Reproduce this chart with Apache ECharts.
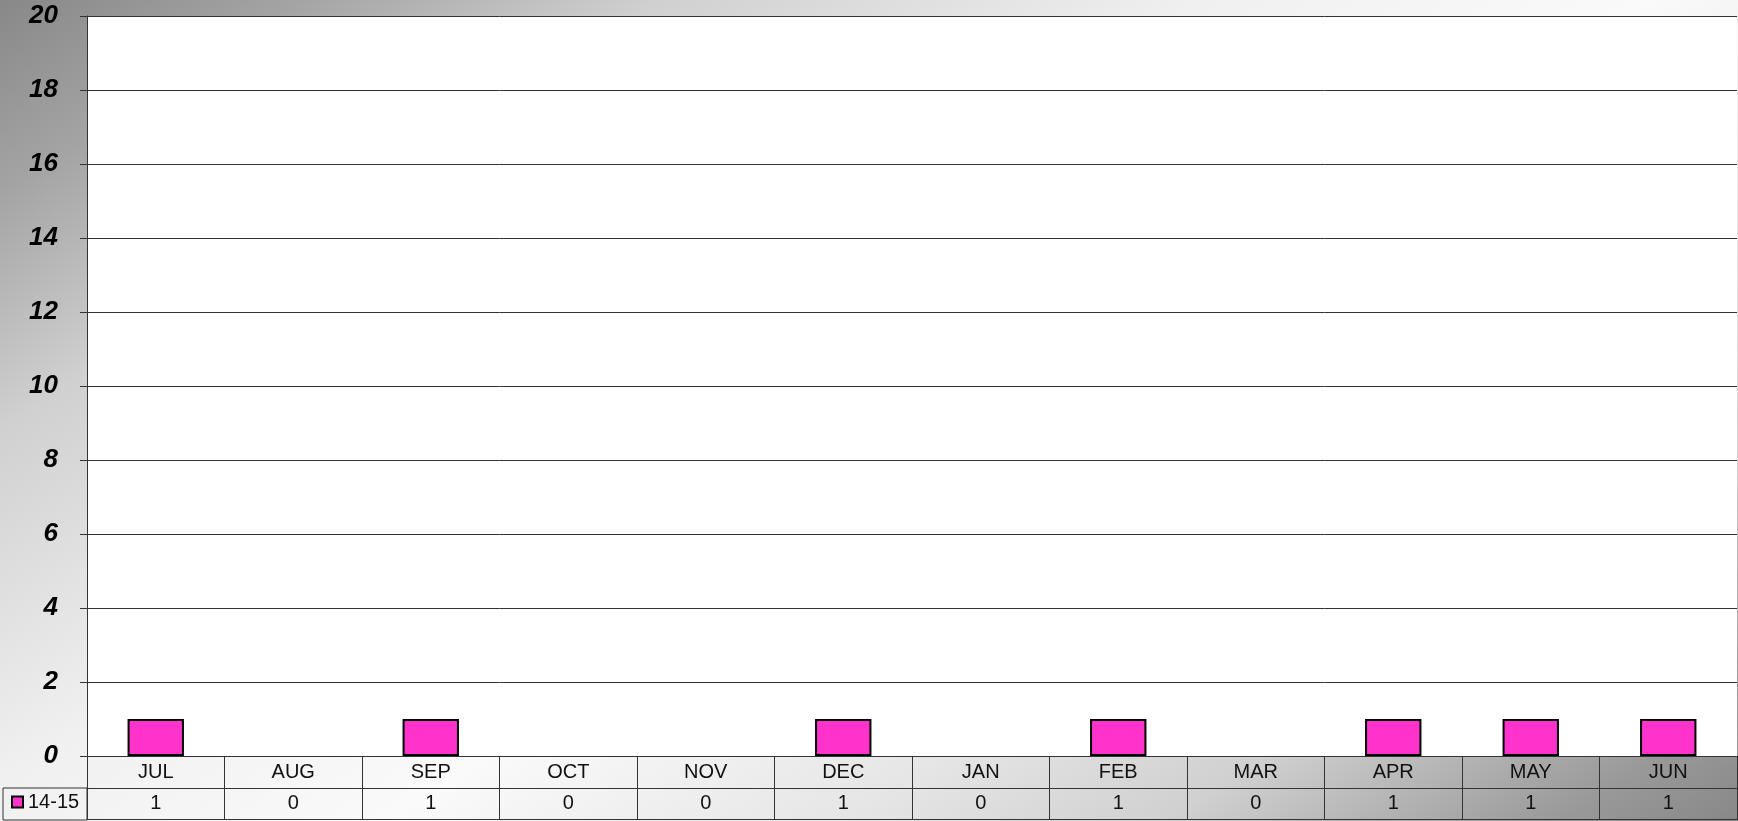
<!DOCTYPE html>
<html>
<head>
<meta charset="utf-8">
<script src="https://cdn.jsdelivr.net/npm/echarts@6/dist/echarts.min.js"></script>
<style>
  html, body { margin: 0; padding: 0; }
  #chart {
    width: 1738px;
    height: 821px;
    background: linear-gradient(147deg, #888888 0%, #a4a4a4 10%, #d0d0d0 22%, #f0f0f0 40%, #fafafa 55%,
                                #e6e6e6 70%, #d0d0d0 81%, #999999 94%, #888888 100%);
  }
</style>
</head>
<body>
<div id="chart"></div>
<script>
// data
var months = ['JUL', 'AUG', 'SEP', 'OCT', 'NOV', 'DEC', 'JAN', 'FEB', 'MAR', 'APR', 'MAY', 'JUN'];
var seriesName = '14-15';
var values = [1, 0, 1, 0, 0, 1, 0, 1, 0, 1, 1, 1];

var font = "'Liberation Sans', Arial, sans-serif";
var lineColor = '#333333';

var chart = echarts.init(document.getElementById('chart'));

// zero bars get no outline, so nothing shows on the axis
var barData = values.map(function (v) {
  return v === 0 ? { value: v, itemStyle: { borderWidth: 0 } } : v;
});

var option = {
  backgroundColor: 'transparent',
  animation: false,
  textStyle: { fontFamily: font },
  grid: {
    left: 87, right: 1, top: 16, bottom: 65,
    show: true, backgroundColor: '#ffffff', borderWidth: 0
  },
  legend: {
    data: [seriesName],
    left: 11, top: 792, padding: 0,
    icon: 'rect', itemWidth: 11, itemHeight: 11,
    itemStyle: { borderColor: '#000', borderWidth: 2 },
    textStyle: { fontSize: 20, color: '#111', fontFamily: font }
  },
  // legend cell border of the data table
  graphic: [{
    type: 'rect',
    shape: { x: 3, y: 788, width: 84, height: 32 },
    style: { fill: 'transparent', stroke: lineColor, lineWidth: 1 }
  }],
  xAxis: [
    {
      type: 'category', data: months, position: 'bottom',
      axisLine: { show: true, lineStyle: { color: lineColor, width: 1 } },
      axisTick: { show: true, length: 64, interval: 0, lineStyle: { color: lineColor } },
      axisLabel: { margin: 6, fontSize: 20, color: '#111', fontFamily: font, interval: 0 }
    },
    {
      type: 'category', data: months, position: 'bottom', offset: 32,
      axisLine: { show: true, lineStyle: { color: lineColor, width: 1 } },
      axisTick: { show: false },
      axisLabel: {
        margin: 5, fontSize: 20, color: '#111', fontFamily: font, interval: 0,
        formatter: function (v, i) { return String(values[i]); }
      }
    },
    {
      type: 'category', data: months, position: 'bottom', offset: 63,
      axisLine: { show: true, lineStyle: { color: lineColor, width: 1 } },
      axisTick: { show: false },
      axisLabel: { show: false }
    }
  ],
  yAxis: {
    type: 'value', min: 0, max: 20, interval: 2,
    axisLine: { show: true, lineStyle: { color: lineColor } },
    axisTick: { show: true, length: 7, lineStyle: { color: lineColor } },
    splitLine: { show: true, lineStyle: { color: lineColor, width: 1 } },
    axisLabel: {
      margin: 29, fontSize: 26, fontWeight: 'bold', fontStyle: 'italic',
      color: '#000', fontFamily: font
    }
  },
  series: [
    {
      name: seriesName,
      type: 'bar',
      data: barData,
      barWidth: '41%',
      itemStyle: { color: '#ff33cc', borderColor: '#000', borderWidth: 2 }
    }
  ]
};

option && chart.setOption(option);
</script>
</body>
</html>
